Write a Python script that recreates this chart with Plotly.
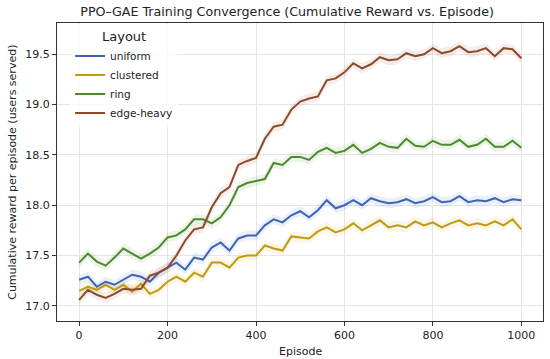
import plotly.graph_objects as go

episodes = list(range(0, 1001, 20))

uniform = [17.26, 17.29, 17.19, 17.24, 17.21, 17.26, 17.31, 17.29, 17.24, 17.33,
           17.38, 17.43, 17.36, 17.48, 17.46, 17.58, 17.63, 17.55, 17.67, 17.70,
           17.70, 17.80, 17.86, 17.83, 17.90, 17.94, 17.88, 17.95, 18.05, 17.97,
           18.00, 18.05, 18.00, 18.07, 18.04, 18.02, 18.03, 18.06, 18.02, 18.04,
           18.08, 18.03, 18.04, 18.09, 18.03, 18.05, 18.04, 18.07, 18.03, 18.06, 18.05]

clustered = [17.15, 17.19, 17.16, 17.21, 17.16, 17.21, 17.14, 17.22, 17.12, 17.16,
             17.24, 17.29, 17.24, 17.33, 17.29, 17.43, 17.43, 17.38, 17.48, 17.50,
             17.50, 17.60, 17.57, 17.55, 17.69, 17.68, 17.67, 17.74, 17.78, 17.73,
             17.76, 17.82, 17.75, 17.80, 17.85, 17.78, 17.80, 17.78, 17.84, 17.80,
             17.83, 17.78, 17.82, 17.85, 17.80, 17.82, 17.80, 17.84, 17.80, 17.86, 17.76]

ring = [17.43, 17.52, 17.44, 17.40, 17.48, 17.57, 17.52, 17.47, 17.52, 17.58,
        17.68, 17.70, 17.76, 17.86, 17.86, 17.82, 17.88, 18.00, 18.18, 18.22,
        18.24, 18.26, 18.42, 18.40, 18.48, 18.48, 18.45, 18.53, 18.57, 18.52,
        18.54, 18.60, 18.52, 18.56, 18.62, 18.58, 18.57, 18.66, 18.59, 18.58,
        18.64, 18.60, 18.60, 18.65, 18.58, 18.60, 18.66, 18.58, 18.58, 18.64, 18.57]

edge_heavy = [17.06, 17.16, 17.11, 17.08, 17.12, 17.17, 17.16, 17.17, 17.30, 17.33,
              17.38, 17.50, 17.65, 17.76, 17.78, 17.98, 18.12, 18.18, 18.40, 18.44,
              18.47, 18.66, 18.78, 18.80, 18.95, 19.03, 19.06, 19.08, 19.24, 19.26,
              19.32, 19.41, 19.36, 19.40, 19.47, 19.44, 19.45, 19.51, 19.48, 19.50,
              19.56, 19.51, 19.53, 19.58, 19.52, 19.53, 19.56, 19.48, 19.56, 19.55, 19.46]

series_names = ["uniform", "clustered", "ring", "edge-heavy"]
series_values = [uniform, clustered, ring, edge_heavy]
colors = ["#3f63b6", "#c09a10", "#4b8b2b", "#8f4a2b"]
band_rgba = ["rgba(63,99,182,0.10)", "rgba(192,154,16,0.10)",
             "rgba(75,139,43,0.10)", "rgba(143,74,43,0.10)"]
band = 0.05

fig = go.Figure()
for name, vals, c, bc in zip(series_names, series_values, colors, band_rgba):
    upper = [v + band for v in vals]
    lower = [v - band for v in vals]
    fig.add_trace(go.Scatter(x=episodes + episodes[::-1], y=upper + lower[::-1],
                             fill="toself", fillcolor=bc, line=dict(width=0),
                             hoverinfo="skip", showlegend=False))
for name, vals, c in zip(series_names, series_values, colors):
    fig.add_trace(go.Scatter(x=episodes, y=vals, mode="lines", name=name,
                             line=dict(color=c, width=2)))

axis_common = dict(showline=True, linecolor="#333333", linewidth=1, mirror=True,
                   ticks="outside", ticklen=4, tickcolor="#333333", automargin=False,
                   showgrid=True, gridcolor="#e6e6e6", gridwidth=1, zeroline=False,
                   tickfont=dict(family="DejaVu Sans", size=11, color="#222222"))

fig.update_layout(
    width=550, height=359,
    margin=dict(l=57, r=7, t=23, b=38),
    paper_bgcolor="white", plot_bgcolor="white",
    font=dict(family="DejaVu Sans", size=11, color="#222222"),
    title=dict(text="PPO–GAE Training Convergence (Cumulative Reward vs. Episode)",
               x=0.522, xanchor="center", y=0.979, yanchor="top",
               font=dict(family="DejaVu Sans", size=12.7, color="#222222")),
    xaxis=dict(range=[-50, 1049], tickvals=[0, 200, 400, 600, 800, 1000], **axis_common),
    yaxis=dict(range=[16.85, 19.81], tickvals=[17.0, 17.5, 18.0, 18.5, 19.0, 19.5],
               ticktext=["17.0", "17.5", "18.0", "18.5", "19.0", "19.5"], **axis_common),
    annotations=[
        dict(text="Episode", xref="paper", yref="paper", x=0.5, y=-0.074,
             xanchor="center", yanchor="top", showarrow=False,
             font=dict(family="DejaVu Sans", size=11, color="#222222")),
        dict(text="Cumulative reward per episode (users served)", xref="paper", yref="paper",
             x=-0.093, y=0.5, xanchor="center", yanchor="middle", textangle=-90,
             showarrow=False, font=dict(family="DejaVu Sans", size=11, color="#222222")),
    ],
    legend=dict(x=0.027, y=0.995, xanchor="left", yanchor="top",
                bgcolor="rgba(255,255,255,0.8)", borderwidth=0, itemwidth=30,
                title=dict(text="Layout", side="top center"),
                font=dict(family="DejaVu Sans", size=10.5), tracegroupgap=0),
    showlegend=True,
)

fig.write_html("out.html", config={"displayModeBar": False},
               post_script="document.body.style.margin='0';")
